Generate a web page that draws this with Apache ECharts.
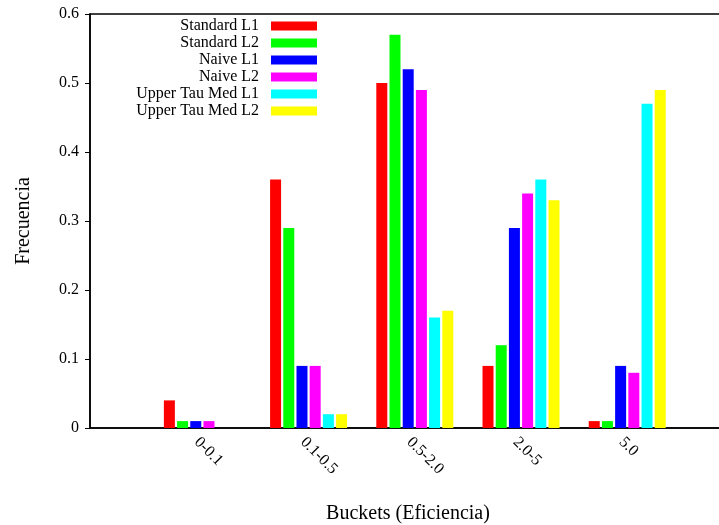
<!DOCTYPE html>
<html>
<head>
<meta charset="utf-8">
<script src="https://cdn.jsdelivr.net/npm/echarts@6/dist/echarts.min.js"></script>
<style>
  html, body { margin: 0; padding: 0; background: #fff; }
  #chart { width: 719px; height: 525px; }
</style>
</head>
<body>
<div id="chart"></div>
<script>
// Efficiency buckets on the x axis (one group of bars per bucket)
const buckets = ['0-0.1', '0.1-0.5', '0.5-2.0', '2.0-5', '5.0'];

// Relative frequency of each method per bucket
const standardL1     = [0.04, 0.36, 0.50, 0.09, 0.01];
const standardL2     = [0.01, 0.29, 0.57, 0.12, 0.01];
const naiveL1        = [0.01, 0.09, 0.52, 0.29, 0.09];
const naiveL2        = [0.01, 0.09, 0.49, 0.34, 0.08];
const upperTauMedL1  = [0.00, 0.02, 0.16, 0.36, 0.47];
const upperTauMedL2  = [0.00, 0.02, 0.17, 0.33, 0.49];

const seriesNames  = ['Standard L1', 'Standard L2', 'Naive L1', 'Naive L2', 'Upper Tau Med L1', 'Upper Tau Med L2'];
const seriesValues = [standardL1, standardL2, naiveL1, naiveL2, upperTauMedL1, upperTauMedL2];
const seriesColors = ['#ff0000', '#00ff00', '#0000ff', '#ff00ff', '#00ffff', '#ffff00'];

const yTicks = [0, 0.1, 0.2, 0.3, 0.4, 0.5, 0.6];

const FONT = '"Liberation Serif", "Times New Roman", serif';

const chart = echarts.init(document.getElementById('chart'), null, { renderer: 'canvas' });

chart.setOption({
  animation: false,
  backgroundColor: '#ffffff',
  textStyle: { fontFamily: FONT, color: '#000' },
  grid: {
    left: 90, top: 14, bottom: 97, right: -7,
    outerBoundsMode: 'none',
    containLabel: false,
    show: true, borderColor: '#000', borderWidth: 1.5,
    backgroundColor: 'transparent'
  },
  legend: {
    orient: 'vertical',
    right: 402,
    top: 18,
    padding: 0,
    align: 'right',
    itemWidth: 46,
    itemHeight: 9,
    itemGap: 1,
    icon: 'rect',
    selectedMode: false,
    textStyle: { fontFamily: FONT, fontSize: 16, color: '#000', lineHeight: 16, padding: [0, 7, 0, 0] },
    data: seriesNames
  },
  xAxis: {
    type: 'value',
    min: -1.058,
    max: 4.93,
    name: 'Buckets (Eficiencia)',
    nameLocation: 'middle',
    nameGap: 76,
    nameTextStyle: { fontFamily: FONT, fontSize: 20, color: '#000' },
    axisLine: { show: true, onZero: false, lineStyle: { color: '#000', width: 1.5 } },
    axisTick: { show: false },
    splitLine: { show: false },
    axisLabel: {
      customValues: buckets.map((_, i) => i),
      formatter: v => buckets[Math.round(v)],
      rotate: -45,
      margin: 6,
      verticalAlign: 'top',
      fontFamily: FONT,
      fontSize: 16,
      color: '#000'
    }
  },
  yAxis: {
    type: 'value',
    min: 0,
    max: 0.6,
    interval: 0.1,
    name: 'Frecuencia',
    nameLocation: 'middle',
    nameGap: 56,
    nameTextStyle: { fontFamily: FONT, fontSize: 20, color: '#000' },
    axisLine: { show: true, onZero: false, lineStyle: { color: '#000', width: 1.5 } },
    axisTick: { show: true, length: 5, lineStyle: { color: '#000' } },
    splitLine: { show: false },
    axisLabel: {
      margin: 11,
      fontFamily: FONT,
      fontSize: 16,
      color: '#000',
      formatter: v => String(yTicks.find(t => Math.abs(t - v) < 1e-9) ?? v)
    }
  },
  series: seriesNames.map((name, s) => ({
    name,
    type: 'bar',
    barWidth: 11,
    barGap: '20%',
    itemStyle: { color: seriesColors[s] },
    data: seriesValues[s].map((v, i) => [i, v])
  }))
});
</script>
</body>
</html>
